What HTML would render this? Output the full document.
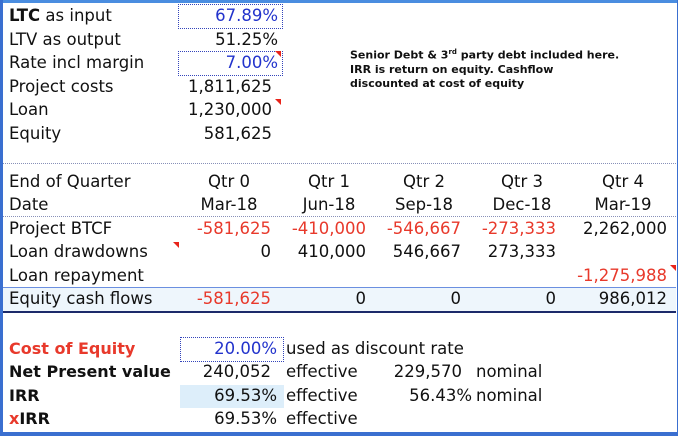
<!DOCTYPE html>
<html><head><meta charset="utf-8"><style>
body{margin:0;width:678px;height:436px;overflow:hidden;background:#fff;position:relative;font-family:"DejaVu Sans","Liberation Sans",sans-serif;font-size:16.5px;color:#111}
.t{position:absolute;white-space:nowrap;line-height:20px}
.r{text-align:right}
.c{text-align:center}
.red{color:#e8392b}
.blue{color:#2233cc}
.b{font-weight:bold;font-size:16px}
.box{position:absolute;border:1px dotted #3344bb}
.tri{position:absolute;width:0;height:0;border-top:6px solid #e8241a;border-left:6px solid transparent}
</style></head><body>
<div style="position:absolute;left:0;top:0;width:678px;height:3px;background:#4a8de0"></div>
<div style="position:absolute;left:0;top:0;width:3px;height:436px;background:#3a6fd0"></div>
<div style="position:absolute;left:0;top:432px;width:678px;height:4px;background:#3a6fd0"></div>
<div style="position:absolute;left:677px;top:0;width:1px;height:436px;background:#3a6fd0"></div>

<div class="box" style="left:178px;top:4px;width:103px;height:23px"></div>
<div class="box" style="left:178px;top:51px;width:103px;height:23px"></div>
<div class="tri" style="left:275px;top:51px"></div>
<div class="tri" style="left:275px;top:99px"></div>

<div class="t" style="left:9px;top:6px"><b>LTC</b> as input</div>
<div class="t r blue" style="right:400px;top:6px">67.89%</div>
<div class="t" style="left:9px;top:30px">LTV as output</div>
<div class="t r" style="right:400px;top:30px">51.25%</div>
<div class="t" style="left:9px;top:53px">Rate incl margin</div>
<div class="t r blue" style="right:400px;top:53px">7.00%</div>
<div class="t" style="left:9px;top:77px">Project costs</div>
<div class="t r" style="right:406px;top:77px">1,811,625</div>
<div class="t" style="left:9px;top:100px">Loan</div>
<div class="t r" style="right:406px;top:100px">1,230,000</div>
<div class="t" style="left:9px;top:124px">Equity</div>
<div class="t r" style="right:406px;top:124px">581,625</div>

<div class="t" style="left:350px;top:45px;font-size:11px;line-height:14px;font-weight:bold">Senior Debt &amp; 3<sup style="font-size:7px">rd</sup> party debt included here.<br>IRR is return on equity. Cashflow<br>discounted at cost of equity</div>

<div style="position:absolute;left:3px;top:163px;width:673px;border-top:1px dotted #8890b8"></div>
<div style="position:absolute;left:3px;top:216px;width:673px;border-top:1px dotted #8890b8"></div>

<div class="t" style="left:9px;top:172px">End of Quarter</div>
<div class="t" style="left:9px;top:195px">Date</div>
<div class="t c" style="left:189px;width:80px;top:172px">Qtr 0<br><span style="position:relative;top:3px">Mar-18</span></div>
<div class="t c" style="left:289px;width:80px;top:172px">Qtr 1<br><span style="position:relative;top:3px">Jun-18</span></div>
<div class="t c" style="left:384px;width:80px;top:172px">Qtr 2<br><span style="position:relative;top:3px">Sep-18</span></div>
<div class="t c" style="left:482px;width:80px;top:172px">Qtr 3<br><span style="position:relative;top:3px">Dec-18</span></div>
<div class="t c" style="left:583px;width:80px;top:172px">Qtr 4<br><span style="position:relative;top:3px">Mar-19</span></div>

<div class="t" style="left:9px;top:219px">Project BTCF</div>
<div class="t r red" style="right:407px;top:219px">-581,625</div>
<div class="t r red" style="right:312px;top:219px">-410,000</div>
<div class="t r red" style="right:217px;top:219px">-546,667</div>
<div class="t r red" style="right:122px;top:219px">-273,333</div>
<div class="t r" style="right:11px;top:219px">2,262,000</div>

<div class="tri" style="left:173px;top:242px"></div>
<div class="t" style="left:9px;top:242px">Loan drawdowns</div>
<div class="t r" style="right:407px;top:242px">0</div>
<div class="t r" style="right:312px;top:242px">410,000</div>
<div class="t r" style="right:217px;top:242px">546,667</div>
<div class="t r" style="right:122px;top:242px">273,333</div>

<div class="t" style="left:9px;top:266px">Loan repayment</div>
<div class="t r red" style="right:11px;top:266px">-1,275,988</div>
<div class="tri" style="left:670px;top:265px"></div>

<div style="position:absolute;left:3px;top:287px;width:673px;height:23px;background:#eef6fc;border-top:1px solid #6b8fe0;border-bottom:2px solid #1c2a6a"></div>
<div class="t" style="left:9px;top:289px">Equity cash flows</div>
<div class="t r red" style="right:407px;top:289px">-581,625</div>
<div class="t r" style="right:312px;top:289px">0</div>
<div class="t r" style="right:217px;top:289px">0</div>
<div class="t r" style="right:122px;top:289px">0</div>
<div class="t r" style="right:11px;top:289px">986,012</div>

<div class="box" style="left:180px;top:337px;width:102px;height:23px"></div>
<div style="position:absolute;left:180px;top:385px;width:104px;height:23px;background:#ddeefa"></div>

<div class="t b red" style="left:9px;top:339px">Cost of Equity</div>
<div class="t r blue" style="right:401px;top:339px">20.00%</div>
<div class="t" style="left:286px;top:339px">used as discount rate</div>

<div class="t b" style="left:9px;top:362px">Net Present value</div>
<div class="t r" style="right:407px;top:362px">240,052</div>
<div class="t" style="left:286px;top:362px">effective</div>
<div class="t r" style="right:216px;top:362px">229,570</div>
<div class="t" style="left:476px;top:362px">nominal</div>

<div class="t b" style="left:9px;top:386px">IRR</div>
<div class="t r" style="right:401px;top:386px">69.53%</div>
<div class="t" style="left:286px;top:386px">effective</div>
<div class="t r" style="right:206px;top:386px">56.43%</div>
<div class="t" style="left:476px;top:386px">nominal</div>

<div class="t b" style="left:9px;top:409px"><span class="red">x</span>IRR</div>
<div class="t r" style="right:401px;top:409px">69.53%</div>
<div class="t" style="left:286px;top:409px">effective</div>
</body></html>
